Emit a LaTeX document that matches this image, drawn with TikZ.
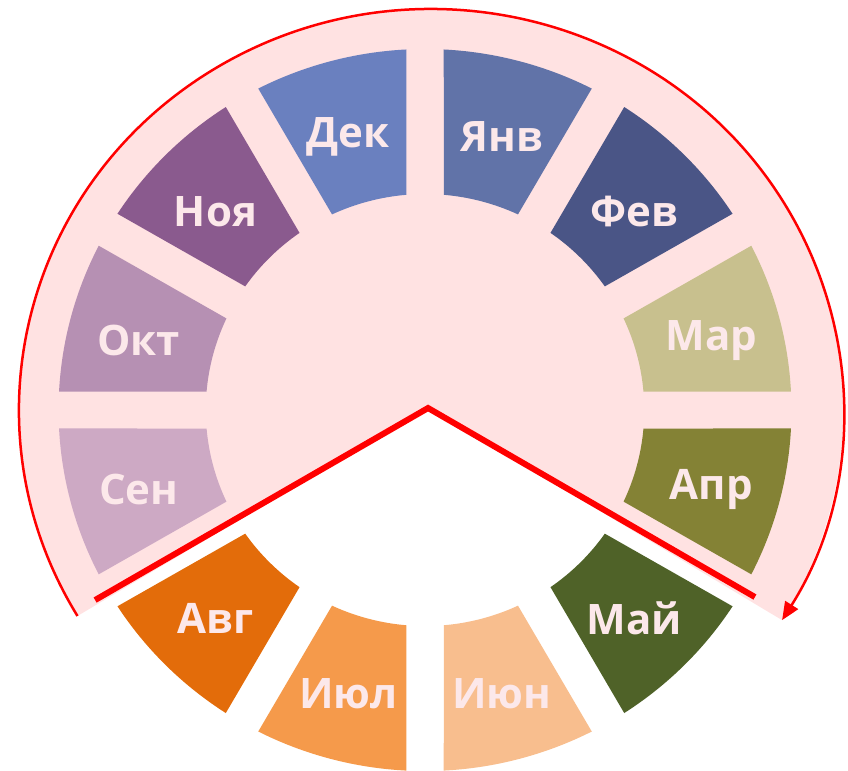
\documentclass[tikz,border=0pt]{standalone}
\usepackage{fontspec}
\setmainfont{Open Sans}
\usetikzlibrary{arrows.meta}

\definecolor{bgpink}{HTML}{FFE2E2}
\definecolor{labelpink}{HTML}{FCE8EA}
\definecolor{janblue}{HTML}{6173A8}
\definecolor{febnavy}{HTML}{4A5586}
\definecolor{markhaki}{HTML}{C8C08E}
\definecolor{aprolive}{HTML}{848235}
\definecolor{maygreen}{HTML}{4F6228}
\definecolor{junpeach}{HTML}{F8BE8E}
\definecolor{julorange}{HTML}{F59A4B}
\definecolor{augorange}{HTML}{E36C0A}
\definecolor{sepmauve}{HTML}{CDA9C4}
\definecolor{octmauve}{HTML}{B690B3}
\definecolor{novpurple}{HTML}{8A5A8E}
\definecolor{decblue}{HTML}{6A80BF}

\begin{document}
\begin{tikzpicture}[x=1.015pt,y=1pt,
    monthlabel/.style={text=labelpink, yshift=-5pt, font=\fontsize{42}{42}\selectfont\bfseries},
    turnline/.style={red, line width=6pt},
    yeararc/.style={red, line width=2.5pt, -{Triangle[length=18pt,width=15pt]}}]
  \useasboundingbox (-418.7,-360) rectangle (416.7,410);

  % Shaded part of the year
  \coordinate (centre) at (3,2);
  \coordinate (arcstart) at ([shift={(6,0)}]210.9:406 and 401);
  \coordinate (arcend) at ([shift={(6,0)}]-31.6:406 and 401);
  \fill[bgpink] (centre) -- (arcstart)
    arc[start angle=210.9, end angle=-31.6, x radius=406, y radius=401] -- cycle;

  % Months
  \foreach \a/\name/\col [count=\i] in {60/Янв/janblue, 30/Фев/febnavy, 0/Мар/markhaki,
      -30/Апр/aprolive, -60/Май/maygreen, -90/Июн/junpeach, -120/Июл/julorange,
      -150/Авг/augorange, 180/Сен/sepmauve, 150/Окт/octmauve, 120/Ноя/novpurple,
      90/Дек/decblue} {
    \fill[\col] (\a+2.93:361) arc[start angle=\a+2.93, end angle=\a+27.07, radius=361]
      -- (\a+25.09:216) arc[start angle=\a+25.09, end angle=\a+4.91, radius=216] -- cycle;
    \node[monthlabel] (m\i) at (\a+15:292 and 288) {\name};
  }

  % Turning lines and arrow
  \coordinate (vleft) at (-325,-190);
  \coordinate (vright) at (325,-187);
  \draw[turnline] (vleft) -- (centre) -- (vright);
  \draw[yeararc] (arcstart)
    arc[start angle=210.9, end angle=-31.6, x radius=406, y radius=401];
\end{tikzpicture}
\end{document}
